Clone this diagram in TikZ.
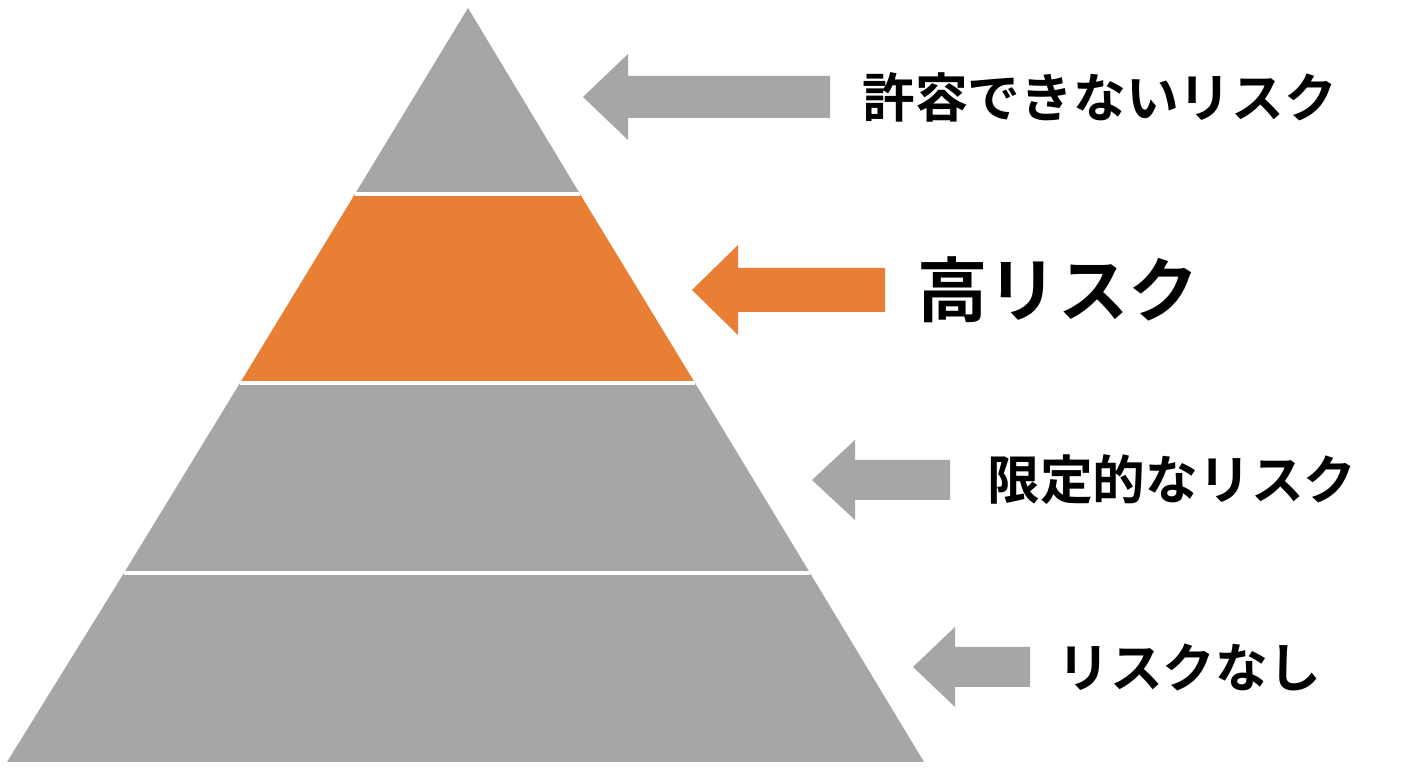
\documentclass[tikz,border=0pt]{standalone}
\usepackage{fontspec}
\newfontfamily\jpfont{Noto Sans CJK JP}[BoldFont={Noto Sans CJK JP Bold}]
\definecolor{riskgray}{HTML}{A6A6A6}
\definecolor{riskorange}{HTML}{E87F35}
\tikzset{
    sep/.style={white, line width=0.9pt},
    lbl/.style={anchor=west, font=\jpfont\bfseries\fontsize{15}{15}\selectfont},
}
% arrow: tip x, y, head end x, shaft end x, head half height, shaft half height
\newcommand{\riskarrow}[7]{%
    \fill[#7] (#1,#2) -- (#3,#2-#5) -- (#3,#2-#6) -- (#4,#2-#6)
        -- (#4,#2+#6) -- (#3,#2+#6) -- (#3,#2+#5) -- cycle;}
\begin{document}
\begin{tikzpicture}[x=0.01cm, y=-0.01cm]
    \useasboundingbox[fill=white] (0,0) rectangle (1408,768);

    % pyramid bands
    \fill[riskgray] (468,8) -- (355,194) -- (580,194) -- cycle;
    \fill[riskorange] (355,194) -- (240,383) -- (695,383) -- (580,194) -- cycle;
    \fill[riskgray] (240,383) -- (124,573) -- (810,573) -- (695,383) -- cycle;
    \fill[riskgray] (124,573) -- (7,762) -- (924,762) -- (810,573) -- cycle;
    \draw[sep] (355,194) -- (580,194);
    \draw[sep] (240,383) -- (695,383);
    \draw[sep] (124,573) -- (810,573);

    % arrows
    \riskarrow{583}{97}{628}{830}{43}{21}{riskgray}
    \riskarrow{692}{290}{738}{885}{45}{22}{riskorange}
    \riskarrow{812}{480}{855}{950}{40}{20}{riskgray}
    \riskarrow{913}{667}{955}{1030}{40}{20}{riskgray}

    % labels
    \node[lbl] (unacc) at (850,97) {許容できないリスク};
    \node[lbl, font=\jpfont\bfseries\fontsize{20}{20}\selectfont] (high) at (905,290) {高リスク};
    \node[lbl] (limited) at (975,480) {限定的なリスク};
    \node[lbl] (none) at (1045,667) {リスクなし};
\end{tikzpicture}
\end{document}
